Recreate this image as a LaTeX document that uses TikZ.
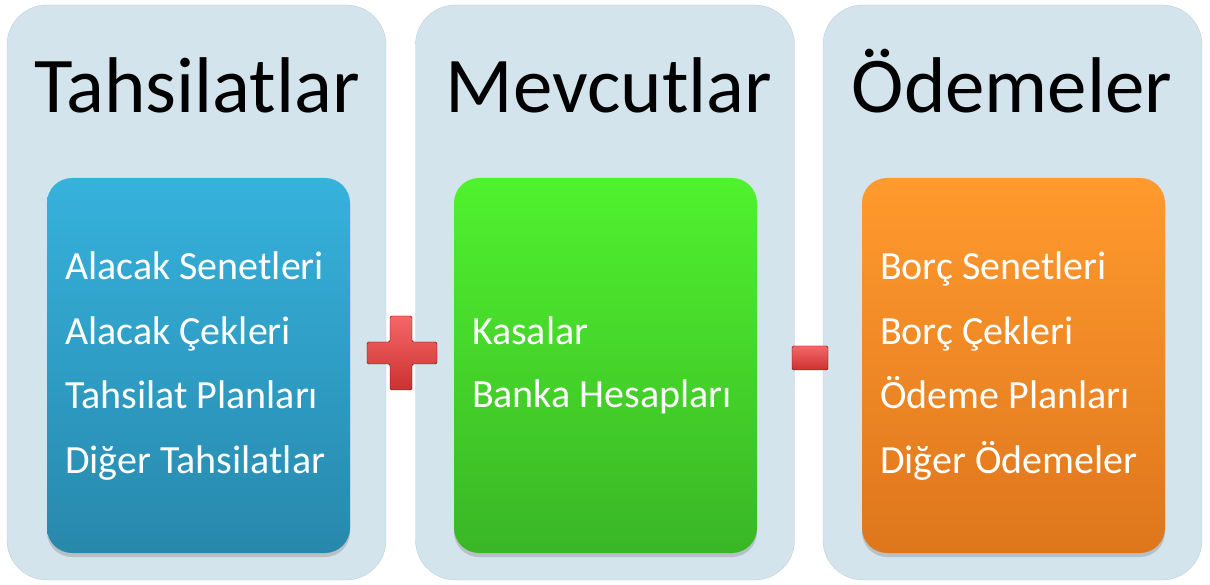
\documentclass[tikz,border=0pt]{standalone}
\usepackage{fontspec}
\setmainfont{Carlito}
\usepackage{xcolor}
\usepackage{tikz}
\usetikzlibrary{positioning}
\usetikzlibrary{shadows}
\definecolor{panelgray}{RGB}{211,228,236}
\definecolor{tahTop}{RGB}{54,178,221}
\definecolor{tahBot}{RGB}{40,136,172}
\definecolor{mevTop}{RGB}{80,242,46}
\definecolor{mevBot}{RGB}{58,182,38}
\definecolor{odeTop}{RGB}{255,154,46}
\definecolor{odeBot}{RGB}{222,118,28}
\definecolor{signTop}{RGB}{244,104,104}
\definecolor{signBot}{RGB}{205,48,48}
\tikzstyle{panel} = [rectangle, rounded corners=40pt, minimum width=379pt, minimum height=575pt, inner sep=0pt, fill=panelgray, draw=panelgray!80!gray]
\tikzstyle{title} = [font=\fontsize{79}{90}\selectfont, text=black, anchor=base, inner sep=0pt]
\tikzstyle{itembox} = [rectangle, rounded corners=25pt, minimum width=303pt, minimum height=375pt, inner sep=0pt, drop shadow={shadow xshift=0pt, shadow yshift=-4pt, opacity=0.35}]
\tikzstyle{item} = [font=\fontsize{40}{48}\selectfont, text=white, anchor=base west, inner sep=0pt]
\tikzstyle{sign} = [draw=red!45!black, thin, rounded corners=1.5pt, top color=signTop, bottom color=signBot]

\begin{document}
\begin{tikzpicture}[x=1pt, y=1pt]
    \useasboundingbox (0,0) rectangle (1210,584);
    % the three panels
    \node(ptah)[panel] at (196.5,291.5) {};
    \node(pmev)[panel] at (605,291.5) {};
    \node(pode)[panel] at (1012.5,291.5) {};
    \node(ttah)[title] at (197,471) {Tahsilatlar};
    \node(tmev)[title] at (609,471) {Mevcutlar};
    \node(tode)[title] at (1012,471) {Ödemeler};
    %
    \node(btah)[itembox, top color=tahTop, bottom color=tahBot] at (198.5,218.5) {};
    \node(bmev)[itembox, top color=mevTop, bottom color=mevBot] at (605.5,218.5) {};
    \node(bode)[itembox, top color=odeTop, bottom color=odeBot] at (1013.5,218.5) {};
    %
    \foreach \txt [count=\i] in {Alacak Senetleri, Alacak Çekleri, Tahsilat Planları, Diğer Tahsilatlar}
        \node(tah\i)[item] at ([xshift=18pt, yshift={-102pt-64.5pt*(\i-1)}]btah.north west) {\txt};
    \node(mev1)[item] at ([xshift=18pt, yshift=-167pt]bmev.north west) {Kasalar};
    \node(mev2)[item] at ([xshift=18pt, yshift=-230pt]bmev.north west) {Banka Hesapları};
    \foreach \txt [count=\i] in {Borç Senetleri, Borç Çekleri, Ödeme Planları, Diğer Ödemeler}
        \node(ode\i)[item] at ([xshift=18pt, yshift={-102pt-64.5pt*(\i-1)}]bode.north west) {\txt};
    %
    % plus and minus
    \coordinate(plus) at (401,232);
    \coordinate(minus) at (810,226);
    \draw[sign] ([shift={(-11,36)}]plus) -- ++(22,0) -- ++(0,-26) -- ++(25,0) -- ++(0,-22)
        -- ++(-25,0) -- ++(0,-26) -- ++(-22,0) -- ++(0,26) -- ++(-23,0) -- ++(0,22) -- ++(23,0) -- cycle;
    \draw[sign] ([shift={(-18,-12)}]minus) rectangle ++(36,24);
\end{tikzpicture}
\end{document}
